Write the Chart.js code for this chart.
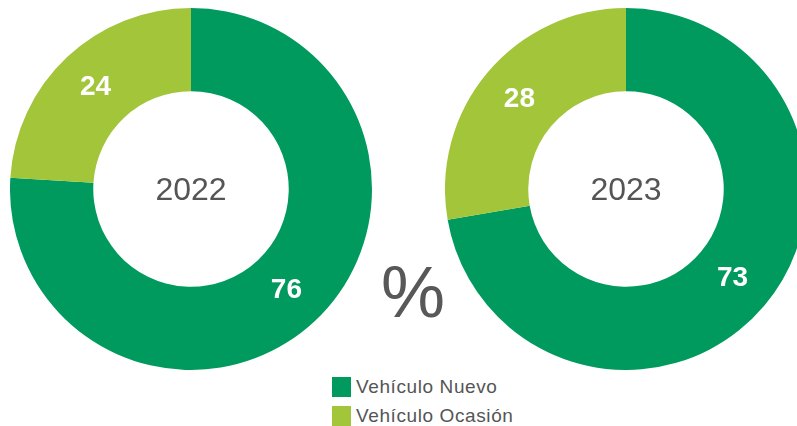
<!DOCTYPE html>
<html lang="es">
<head>
    <meta charset="UTF-8">
    <title>Vehículo Nuevo vs Ocasión</title>
    <script src="https://cdn.jsdelivr.net/npm/chart.js"></script>
    <style>
        html, body { margin: 0; padding: 0; background: #fff; overflow: hidden; }
        .wrap { position: relative; width: 797px; height: 426px; overflow: hidden; font-family: "Liberation Sans", Arial, sans-serif; }
        .donut { position: absolute; top: 8px; width: 362px; height: 362px; }
        #leftBox { left: 10px; }
        #rightBox { left: 445px; }
        .pct { position: absolute; left: 381px; top: 256px; font-size: 72px; color: #585858; line-height: 1; }
        .legend { position: absolute; left: 332px; top: 372px; }
        .legend-item { display: flex; align-items: center; height: 29px; font-size: 19px; letter-spacing: 0.6px; color: #555; }
        .legend-item span.sq { width: 19px; height: 20px; margin-right: 5px; display: inline-block; }
    </style>
</head>
<body>
<div class="wrap">
    <div class="donut" id="leftBox"><canvas id="chart2022"></canvas></div>
    <div class="donut" id="rightBox"><canvas id="chart2023"></canvas></div>
    <div class="pct">%</div>
    <div class="legend" id="legend"></div>
</div>
<script>
    // datos
    const categorias = ['Vehículo Nuevo', 'Vehículo Ocasión'];
    const anios = ['2022', '2023'];
    const valores2022 = [76, 24];
    const valores2023 = [73, 28];
    const colores = ['#009a5e', '#a3c53a'];

    // texto en el centro + valores sobre cada sector
    const textosPlugin = {
        id: 'textos',
        afterDatasetsDraw(chart, args, opts) {
            const ctx = chart.ctx;
            const meta = chart.getDatasetMeta(0);
            const data = chart.data.datasets[0].data;
            ctx.save();
            ctx.textAlign = 'center';
            ctx.textBaseline = 'middle';
            ctx.fillStyle = '#ffffff';
            ctx.font = 'bold 28px "Liberation Sans", Arial, sans-serif';
            meta.data.forEach((arc, i) => {
                const p = arc.getCenterPoint();
                ctx.fillText(String(data[i]), p.x, p.y);
            });
            const c = meta.data[0];
            ctx.fillStyle = '#555555';
            ctx.font = '32px "Liberation Sans", Arial, sans-serif';
            ctx.fillText(opts.centro, c.x, c.y + 2);
            ctx.restore();
        }
    };

    function crearDona(id, valores, anio) {
        new Chart(document.getElementById(id), {
            type: 'doughnut',
            data: {
                labels: categorias,
                datasets: [{
                    data: valores,
                    backgroundColor: colores,
                    borderWidth: 0
                }]
            },
            options: {
                responsive: true,
                maintainAspectRatio: false,
                animation: false,
                cutout: '54%',
                plugins: {
                    legend: { display: false },
                    tooltip: { enabled: false },
                    textos: { centro: anio }
                }
            },
            plugins: [textosPlugin]
        });
    }

    crearDona('chart2022', valores2022, anios[0]);
    crearDona('chart2023', valores2023, anios[1]);

    // leyenda
    const legend = document.getElementById('legend');
    categorias.forEach((c, i) => {
        const div = document.createElement('div');
        div.className = 'legend-item';
        div.innerHTML = `<span class="sq" style="background:${colores[i]}"></span>${c}`;
        legend.appendChild(div);
    });
</script>
</body>
</html>
